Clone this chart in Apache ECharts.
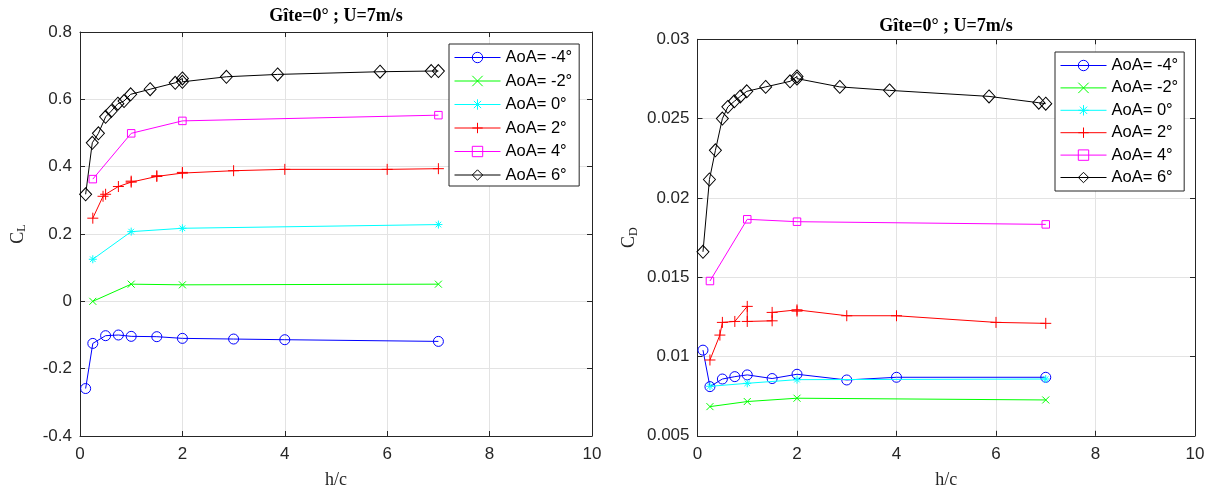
<!DOCTYPE html>
<html lang="fr">
<head>
  <meta charset="UTF-8">
  <title>CL / CD vs h/c</title>
  <script src="https://cdn.jsdelivr.net/npm/echarts@6.0.0/dist/echarts.min.js"></script>
  <style>
    html, body { margin: 0; padding: 0; background: #fff; }
    #char { width: 1213px; height: 489px; }
  </style>
</head>
<body>
  <div id="char"></div>
  <script>
    // données
    const names = ['AoA= -4°', 'AoA= -2°', 'AoA= 0°', 'AoA= 2°', 'AoA= 4°', 'AoA= 6°'];
    const xTicks = [0, 2, 4, 6, 8, 10];

    // abscisses h/c par incidence
    const hcM4 = [0.11, 0.25, 0.5, 0.75, 1, 1.5, 2, 3, 4, 7];
    const hcM2 = [0.25, 1, 2, 7];
    const hc0 = [0.25, 1, 2, 7];
    const hc2 = [0.25, 0.45, 0.5, 0.75, 1, 1, 1.5, 1.5, 2, 2, 3, 4, 6, 7];
    const hc4 = [0.25, 1, 2, 7];
    const hc6 = [0.11, 0.24, 0.36, 0.5, 0.61, 0.74, 0.86, 0.99, 1.37, 1.86, 2, 2, 2.86, 3.86, 5.86, 6.86, 7];

    // CL
    const clM4 = [-0.259, -0.125, -0.102, -0.100, -0.104, -0.105, -0.110, -0.112, -0.114, -0.119];
    const clM2 = [0.0, 0.051, 0.049, 0.051];
    const cl0 = [0.125, 0.207, 0.217, 0.228];
    const cl2 = [0.247, 0.312, 0.318, 0.341, 0.354, 0.357, 0.371, 0.373, 0.381, 0.383, 0.388, 0.392, 0.392, 0.394];
    const cl4 = [0.363, 0.499, 0.536, 0.553];
    const cl6 = [0.318, 0.471, 0.499, 0.548, 0.565, 0.587, 0.595, 0.615, 0.630, 0.649, 0.662, 0.652, 0.667, 0.674, 0.682, 0.684, 0.684];

    // CD
    const cdM4 = [0.0104, 0.0081, 0.00858, 0.00873, 0.00884, 0.00861, 0.00888, 0.00852, 0.00869, 0.00869];
    const cdM2 = [0.00684, 0.00716, 0.00737, 0.00726];
    const cd0 = [0.00812, 0.00831, 0.00854, 0.00858];
    const cd2 = [0.00978, 0.01135, 0.01215, 0.01221, 0.01316, 0.01221, 0.01225, 0.01278, 0.01294, 0.01286, 0.01257, 0.01257, 0.01215, 0.01209];
    const cd4 = [0.01476, 0.01865, 0.0185, 0.01833];
    const cd6 = [0.0166, 0.02116, 0.0230, 0.0250, 0.02574, 0.02609, 0.0264, 0.02672, 0.0270, 0.02735, 0.02766, 0.02752, 0.0270, 0.02678, 0.0264, 0.0260, 0.02594];

    const colors = ['#0000ff', '#00ff00', '#00ffff', '#ff0000', '#ff00ff', '#000000'];
    // marqueurs façon MATLAB (contour seul)
    const symbols = [
      'path://M10,5A5,5,0,1,1,0,5A5,5,0,1,1,10,5Z',
      'path://M0,0L10,10M10,0L0,10',
      'path://M5,0L5,10M0,5L10,5M1.5,1.5L8.5,8.5M8.5,1.5L1.5,8.5',
      'path://M5,0L5,10M0,5L10,5',
      'path://M0,0L10,0L10,10L0,10Z',
      'path://M5,0L10,5L5,10L0,5Z'
    ];
    const sizes = [10, 7, 8, 11, 7.5, [12, 13]];

    const hcAll = [hcM4, hcM2, hc0, hc2, hc4, hc6];
    const clAll = [clM4, clM2, cl0, cl2, cl4, cl6];
    const cdAll = [cdM4, cdM2, cd0, cd2, cd4, cd6];

    const chartDom = document.getElementById('char');
    const myChart = echarts.init(chartDom, null, { renderer: 'canvas' });

    const axisColor = '#262626';
    const sans = 'Liberation Sans';
    const serif = 'Liberation Serif';

    function mainX(gi) {
      return {
        type: 'value', gridIndex: gi, position: 'bottom',
        min: 0, max: 10, interval: 2,
        name: 'h/c', nameLocation: 'middle', nameGap: 35,
        nameTextStyle: { fontFamily: serif, fontSize: 18, color: axisColor },
        axisLine: { onZero: false, lineStyle: { color: axisColor, width: 1 } },
        axisTick: { inside: true, length: 5, lineStyle: { color: axisColor } },
        axisLabel: { fontFamily: sans, fontSize: 17, color: axisColor, margin: 10 },
        splitLine: { show: true, lineStyle: { color: '#e3e3e3', width: 1 } }
      };
    }
    function boxX(gi) {
      return {
        type: 'value', gridIndex: gi, position: 'top',
        min: 0, max: 10, interval: 2,
        axisLine: { onZero: false, lineStyle: { color: axisColor, width: 1 } },
        axisTick: { inside: true, length: 5, lineStyle: { color: axisColor } },
        axisLabel: { show: false }, splitLine: { show: false }
      };
    }
    function mainY(gi, min, max, step, sub, gap) {
      return {
        type: 'value', gridIndex: gi, position: 'left',
        min: min, max: max, interval: step,
        name: '{c|C}{s|' + sub + '}', nameLocation: 'middle', nameRotate: 90, nameGap: gap,
        nameTextStyle: {
          rich: {
            c: { fontFamily: serif, fontSize: 18, color: axisColor, lineHeight: 20 },
            s: { fontFamily: serif, fontSize: 12, color: axisColor, lineHeight: 12, verticalAlign: 'bottom' }
          }
        },
        axisLine: { show: true, onZero: false, lineStyle: { color: axisColor, width: 1 } },
        axisTick: { show: true, inside: true, length: 5, lineStyle: { color: axisColor } },
        axisLabel: { fontFamily: sans, fontSize: 17, color: axisColor, margin: 8 },
        splitLine: { show: true, lineStyle: { color: '#e3e3e3', width: 1 } }
      };
    }
    function boxY(gi, min, max, step) {
      return {
        type: 'value', gridIndex: gi, position: 'right',
        min: min, max: max, interval: step,
        axisLine: { show: true, onZero: false, lineStyle: { color: axisColor, width: 1 } },
        axisTick: { show: true, inside: true, length: 5, lineStyle: { color: axisColor } },
        axisLabel: { show: false }, splitLine: { show: false }
      };
    }

    function legendAt(left, top, gap, pad) {
      return {
        orient: 'vertical', left: left, top: top,
        data: names,
        itemWidth: 46, itemHeight: 13, itemGap: gap,
        padding: pad,
        backgroundColor: '#fff', borderColor: axisColor, borderWidth: 1, borderRadius: 0,
        textStyle: { fontFamily: sans, fontSize: 16.5, color: '#000' },
        itemStyle: { borderWidth: 1 },
        lineStyle: { width: 1 },
        selectedMode: false
      };
    }

    const series = [];
    [clAll, cdAll].forEach(function (vals, gi) {
      names.forEach(function (n, k) {
        series.push({
          type: 'line', name: n,
          xAxisIndex: gi * 2, yAxisIndex: gi * 2,
          data: hcAll[k].map(function (x, i) { return [x, vals[k][i]]; }),
          symbol: symbols[k], symbolSize: sizes[k],
          showAllSymbol: true,
          lineStyle: { color: colors[k], width: 1 },
          itemStyle: { color: 'rgba(0,0,0,0)', borderColor: colors[k], borderWidth: 1 },
          emphasis: { disabled: true },
          z: 3 + k
        });
      });
    });

    const option = {
      animation: false,
      backgroundColor: '#fff',
      title: [
        { text: 'Gîte=0° ; U=7m/s', left: 336, top: 7, textAlign: 'center', padding: 0,
          textStyle: { fontFamily: serif, fontSize: 18, fontWeight: 'bold', color: '#000' } },
        { text: 'Gîte=0° ; U=7m/s', left: 946, top: 17, textAlign: 'center', padding: 0,
          textStyle: { fontFamily: serif, fontSize: 18, fontWeight: 'bold', color: '#000' } }
      ],
      grid: [
        { left: 80, top: 32, width: 512, height: 404, containLabel: false, outerBoundsMode: 'none' },
        { left: 697.5, top: 39.3, width: 497.5, height: 396.5, containLabel: false, outerBoundsMode: 'none' }
      ],
      xAxis: [mainX(0), boxX(0), mainX(1), boxX(1)],
      yAxis: [
        mainY(0, -0.4, 0.8, 0.2, 'L', 52), boxY(0, -0.4, 0.8, 0.2),
        mainY(1, 0.005, 0.03, 0.005, 'D', 58), boxY(1, 0.005, 0.03, 0.005)
      ],
      legend: [
        legendAt(449, 44, 6.5, [5, 7, 2.5, 5]),
        legendAt(1055, 52, 5.4, [5, 6, 5, 5])
      ],
      series: series
    };

    option && myChart.setOption(option);
  </script>
</body>
</html>
